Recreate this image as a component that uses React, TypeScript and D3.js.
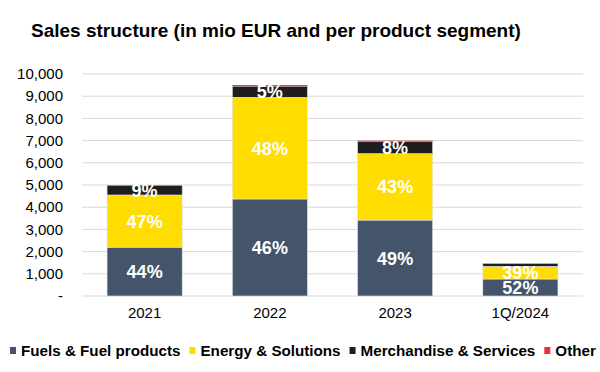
import React, { useRef, useEffect } from "react";
import * as d3 from "d3";

const periods = ["2021", "2022", "2023", "1Q/2024"];
const segments = ["Fuels & Fuel products", "Energy & Solutions", "Merchandise & Services", "Other"];
const fuels = [2200, 4370, 3420, 765];
const energy = [2350, 4580, 2990, 570];
const merchandise = [430, 500, 550, 120];
const other = [20, 50, 40, 15];
const fuelsPct = ["44%", "46%", "49%", "52%"];
const energyPct = ["47%", "48%", "43%", "39%"];
const merchPct = ["9%", "5%", "8%", ""];
const colors = ["#44546A", "#FFDD00", "#1E1E1E", "#E8303A"];
const yTicks = [0, 1000, 2000, 3000, 4000, 5000, 6000, 7000, 8000, 9000, 10000];

const App: React.FC = () => {
  const ref = useRef<SVGSVGElement>(null);

  useEffect(() => {
    if (!ref.current) return;
    const svg = d3.select(ref.current);
    svg.selectAll("*").remove();

    const font = "Liberation Sans, Arial, sans-serif";
    const x = d3.scaleBand().domain(periods).range([82, 583]).paddingInner(0.4).paddingOuter(0.2);
    const y = d3.scaleLinear().domain([0, 10000]).range([296, 74]);

    svg
      .append("text")
      .attr("x", 31)
      .attr("y", 37)
      .attr("font-family", font)
      .attr("font-weight", "bold")
      .attr("font-size", 19)
      .attr("fill", "#000")
      .text("Sales structure (in mio EUR and per product segment)");

    // gridlines
    svg
      .append("g")
      .selectAll("line")
      .data(yTicks)
      .join("line")
      .attr("x1", 82)
      .attr("x2", 583)
      .attr("y1", (d) => y(d))
      .attr("y2", (d) => y(d))
      .attr("stroke", "#D9D9D9")
      .attr("stroke-width", 1);

    svg
      .append("g")
      .selectAll("text")
      .data(yTicks)
      .join("text")
      .attr("x", 63)
      .attr("y", (d) => y(d))
      .attr("dy", "0.35em")
      .attr("text-anchor", "end")
      .attr("font-family", font)
      .attr("font-size", 15)
      .attr("fill", "#000")
      .text((d) => (d === 0 ? "-" : d3.format(",")(d)));

    svg
      .append("g")
      .selectAll("text")
      .data(periods)
      .join("text")
      .attr("x", (d) => (x(d) ?? 0) + x.bandwidth() / 2)
      .attr("y", 313)
      .attr("dy", "0.35em")
      .attr("text-anchor", "middle")
      .attr("font-family", font)
      .attr("font-size", 15)
      .attr("fill", "#000")
      .text((d) => d);

    const table = periods.map((p, i) => ({
      period: p,
      fuels: fuels[i],
      energy: energy[i],
      merchandise: merchandise[i],
      other: other[i],
    }));
    const keys = ["fuels", "energy", "merchandise", "other"];
    const stack = d3.stack<any>().keys(keys)(table);
    const labels = [fuelsPct, energyPct, merchPct, periods.map(() => "")];

    stack.forEach((layer, k) => {
      const g = svg.append("g");
      g.selectAll("rect")
        .data(layer)
        .join("rect")
        .attr("x", (d) => x(d.data.period) ?? 0)
        .attr("width", x.bandwidth())
        .attr("y", (d) => y(d[1]))
        .attr("height", (d) => y(d[0]) - y(d[1]))
        .attr("fill", colors[k])
        .attr("stroke", k === 3 ? "none" : "#E6E6E6")
        .attr("stroke-width", 0.6);
    });

    stack.forEach((layer, k) => {
      svg
        .append("g")
        .selectAll("text")
        .data(layer)
        .join("text")
        .attr("x", (d) => (x(d.data.period) ?? 0) + x.bandwidth() / 2)
        .attr("y", (d) => (y(d[0]) + y(d[1])) / 2)
        .attr("dy", "0.36em")
        .attr("text-anchor", "middle")
        .attr("font-family", font)
        .attr("font-weight", "bold")
        .attr("font-size", 18)
        .attr("fill", "#fff")
        .text((d, i) => labels[k][i]);
    });

    // legend
    const legend = svg.append("g");
    let lx = 10;
    segments.forEach((s, i) => {
      legend
        .append("rect")
        .attr("x", lx)
        .attr("y", 347)
        .attr("width", 6)
        .attr("height", 7)
        .attr("fill", colors[i]);
      const t = legend
        .append("text")
        .attr("x", lx + 11)
        .attr("y", 350.5)
        .attr("dy", "0.35em")
        .attr("font-family", font)
        .attr("font-weight", "bold")
        .attr("font-size", 15.2)
        .attr("fill", "#000")
        .text(s);
      const w = (t.node() as SVGTextElement).getComputedTextLength();
      lx += 11 + w + 9;
    });
  }, []);

  return (
    <svg
      ref={ref}
      width={600}
      height={372}
      style={{ position: "absolute", left: 0, top: 0, background: "#fff" }}
    />
  );
};

export default App;
